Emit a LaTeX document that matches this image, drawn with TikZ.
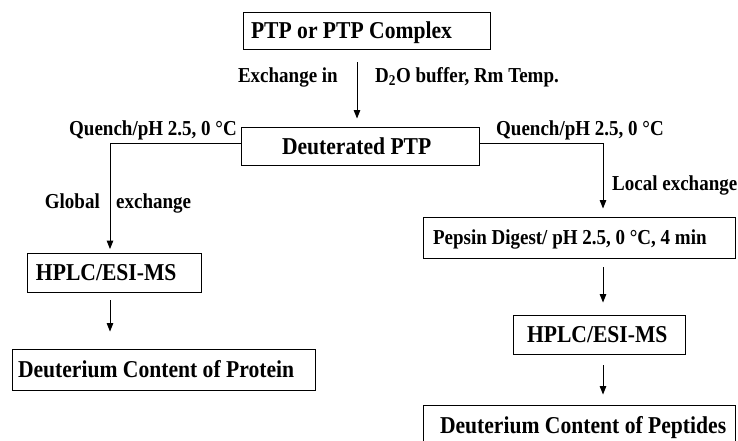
\documentclass[tikz,border=0pt]{standalone}
\usepackage{fontspec}
\setmainfont{Liberation Serif}
\usetikzlibrary{arrows.meta}
\newcommand{\vstretch}[1]{\scalebox{1}[1.12]{#1}}
\newcommand{\bxt}[3]{\vstretch{\makebox[#1][l]{\hspace*{#2}#3}}}
\begin{document}
\begin{tikzpicture}[x=1pt,y=-1pt,
  box/.style={draw, line width=0.9pt, inner xsep=0pt, inner ysep=0pt,
    text height=16.2pt, text depth=0pt,
    font=\fontsize{21.6}{24}\selectfont\bfseries},
  smallbox/.style={box, text height=14.2pt, font=\fontsize{19}{22}\selectfont\bfseries},
  lbl/.style={inner sep=0pt, font=\fontsize{19}{22}\selectfont\bfseries},
  arr/.style={line width=1pt, -{Triangle[width=6.5pt,length=8.5pt]}}]
\useasboundingbox (0,0) rectangle (738,440);
% boxes
\node[box, minimum height=37pt] (b1) at (366.5,30.5) {\bxt{247pt}{8pt}{PTP or PTP Complex}};
\node[box, minimum height=38pt] (b2) at (360,146) {\bxt{238pt}{41pt}{Deuterated PTP}};
\node[box, minimum height=39pt] (h1) at (114,272.5) {\bxt{174pt}{9pt}{HPLC/ESI-MS}};
\node[box, minimum height=41pt] (dp) at (163.5,369.5) {\bxt{303pt}{6pt}{Deuterium Content of Protein}};
\node[smallbox, minimum height=41pt] (pep) at (579,237.5) {\bxt{312pt}{10pt}{Pepsin Digest/ pH 2.5, 0 °C, 4 min}};
\node[box, minimum height=39pt] (h2) at (599,334.5) {\bxt{172pt}{14pt}{HPLC/ESI-MS}};
\node[box, minimum height=41pt] (dpp) at (579,425.5) {\bxt{312pt}{17pt}{Deuterium Content of Peptides}};
% connector columns
\coordinate (xa) at (357,0);
\coordinate (xl) at (110,0);
\coordinate (xr) at (603,0);
% connectors
\draw[arr, shorten <=13pt, shorten >=8pt] (b1.south -| xa) -- (b2.north -| xa);
\draw[arr, shorten >=3.5pt] ([yshift=3pt]b2.west) -| (h1.north -| xl);
\draw[arr, shorten >=8pt] ([yshift=3pt]b2.east) -| (pep.north -| xr);
\draw[arr, shorten <=8pt, shorten >=17pt] (h1.south -| xl) -- (dp.north -| xl);
\draw[arr, shorten <=9pt, shorten >=12pt] (pep.south -| xr) -- (h2.north -| xr);
\draw[arr, shorten <=11pt, shorten >=10pt] (h2.south -| xr) -- (dpp.north -| xr);
% labels
\node[lbl, anchor=base east] (lex) at (338,82) {\vstretch{Exchange in}};
\node[lbl, anchor=base west] (ldo) at (375,82) {\vstretch{D\textsubscript{2}O buffer, Rm Temp.}};
\node[lbl, anchor=base west] (lq1) at (69,135) {\vstretch{Quench/pH 2.5, 0 °C}};
\node[lbl, anchor=base west] (lq2) at (496,135) {\vstretch{Quench/pH 2.5, 0 °C}};
\node[lbl, anchor=base west] (lloc) at (612,190) {\vstretch{Local exchange}};
\node[lbl, anchor=base east] (lgl) at (100,208) {\vstretch{Global}};
\node[lbl, anchor=base west] (lgx) at (116,208) {\vstretch{exchange}};
\end{tikzpicture}
\end{document}
